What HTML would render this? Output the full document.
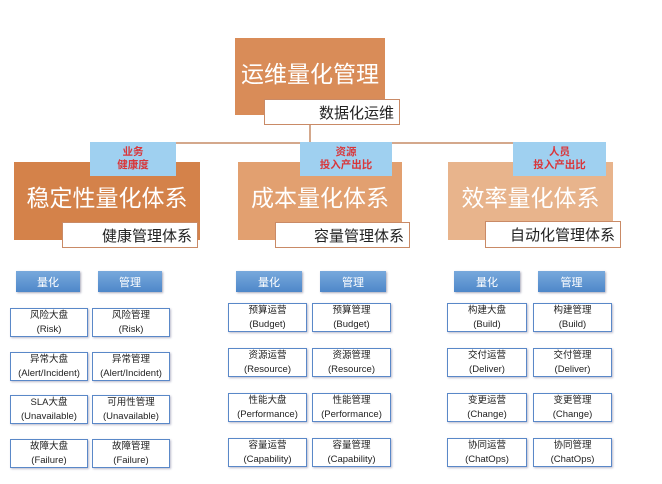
<!DOCTYPE html>
<html><head><meta charset="utf-8"><style>
body{margin:0;width:662px;height:484px;background:#fff;position:relative;overflow:hidden;font-family:"Liberation Sans","Noto Sans CJK SC",sans-serif}
div{position:absolute;box-sizing:border-box}
.o{color:#fff;display:flex;align-items:center;justify-content:center}
.s{background:#fff;border:1px solid #c98a66;color:#222;font-size:15px;display:flex;align-items:center;justify-content:flex-end;padding-right:5px}
.b{background:#9fd0f0;color:#d9363a;font-weight:bold;font-size:10.5px;line-height:13px;text-align:center;display:flex;align-items:center;justify-content:center}
.h{background:linear-gradient(#78a9dc,#4e87c9);color:#fff;font-size:11px;display:flex;align-items:center;justify-content:center;box-shadow:1px 1px 2px #aab}
.c{background:#fff;border:1.5px solid #5a88c8;font-size:9.5px;line-height:14px;color:#222;text-align:center;display:flex;align-items:center;justify-content:center;box-shadow:1px 1px 2px #bbc}
.l{background:#d4a88c}
</style></head><body>
<div class="l" style="left:309px;top:125px;width:2px;height:19px"></div>
<div class="l" style="left:176px;top:142px;width:338px;height:1.5px"></div>
<div class="o" style="left:235px;top:38px;width:150px;height:77px;background:#d98c58;font-size:23px;padding-bottom:10px">运维量化管理</div>
<div class="s" style="left:264px;top:99px;width:136px;height:26px">数据化运维</div>

<div class="o" style="left:14px;top:162px;width:186px;height:78px;background:#d4824a;font-size:23px;padding-bottom:10px">稳定性量化体系</div>
<div class="s" style="left:62px;top:222px;width:136px;height:26px">健康管理体系</div>
<div class="b" style="left:90px;top:142px;width:86px;height:34px">业务<br>健康度</div>

<div class="o" style="left:238px;top:162px;width:164px;height:78px;background:#e2a070;font-size:23px;padding-bottom:10px">成本量化体系</div>
<div class="s" style="left:275px;top:222px;width:135px;height:26px">容量管理体系</div>
<div class="b" style="left:300px;top:142px;width:92px;height:34px">资源<br>投入产出比</div>

<div class="o" style="left:448px;top:162px;width:165px;height:78px;background:#e8b48c;font-size:23px;padding-bottom:10px">效率量化体系</div>
<div class="s" style="left:485px;top:221px;width:136px;height:27px">自动化管理体系</div>
<div class="b" style="left:513px;top:142px;width:93px;height:34px">人员<br>投入产出比</div>

<div class="h" style="left:16px;top:271px;width:64px;height:21px">量化</div>
<div class="h" style="left:98px;top:271px;width:64px;height:21px">管理</div>
<div class="c" style="left:10px;top:308px;width:78px;height:29px">风险大盘<br>(Risk)</div>
<div class="c" style="left:92px;top:308px;width:78px;height:29px">风险管理<br>(Risk)</div>
<div class="c" style="left:10px;top:352px;width:78px;height:29px">异常大盘<br>(Alert/Incident)</div>
<div class="c" style="left:92px;top:352px;width:78px;height:29px">异常管理<br>(Alert/Incident)</div>
<div class="c" style="left:10px;top:395px;width:78px;height:29px">SLA大盘<br>(Unavailable)</div>
<div class="c" style="left:92px;top:395px;width:78px;height:29px">可用性管理<br>(Unavailable)</div>
<div class="c" style="left:10px;top:439px;width:78px;height:29px">故障大盘<br>(Failure)</div>
<div class="c" style="left:92px;top:439px;width:78px;height:29px">故障管理<br>(Failure)</div>

<div class="h" style="left:236px;top:271px;width:66px;height:21px">量化</div>
<div class="h" style="left:320px;top:271px;width:66px;height:21px">管理</div>
<div class="c" style="left:228px;top:303px;width:79px;height:29px">预算运营<br>(Budget)</div>
<div class="c" style="left:312px;top:303px;width:79px;height:29px">预算管理<br>(Budget)</div>
<div class="c" style="left:228px;top:348px;width:79px;height:29px">资源运营<br>(Resource)</div>
<div class="c" style="left:312px;top:348px;width:79px;height:29px">资源管理<br>(Resource)</div>
<div class="c" style="left:228px;top:393px;width:79px;height:29px">性能大盘<br>(Performance)</div>
<div class="c" style="left:312px;top:393px;width:79px;height:29px">性能管理<br>(Performance)</div>
<div class="c" style="left:228px;top:438px;width:79px;height:29px">容量运营<br>(Capability)</div>
<div class="c" style="left:312px;top:438px;width:79px;height:29px">容量管理<br>(Capability)</div>

<div class="h" style="left:454px;top:271px;width:66px;height:21px">量化</div>
<div class="h" style="left:538px;top:271px;width:67px;height:21px">管理</div>
<div class="c" style="left:447px;top:303px;width:80px;height:29px">构建大盘<br>(Build)</div>
<div class="c" style="left:533px;top:303px;width:79px;height:29px">构建管理<br>(Build)</div>
<div class="c" style="left:447px;top:348px;width:80px;height:29px">交付运营<br>(Deliver)</div>
<div class="c" style="left:533px;top:348px;width:79px;height:29px">交付管理<br>(Deliver)</div>
<div class="c" style="left:447px;top:393px;width:80px;height:29px">变更运营<br>(Change)</div>
<div class="c" style="left:533px;top:393px;width:79px;height:29px">变更管理<br>(Change)</div>
<div class="c" style="left:447px;top:438px;width:80px;height:29px">协同运营<br>(ChatOps)</div>
<div class="c" style="left:533px;top:438px;width:79px;height:29px">协同管理<br>(ChatOps)</div>
</body></html>
